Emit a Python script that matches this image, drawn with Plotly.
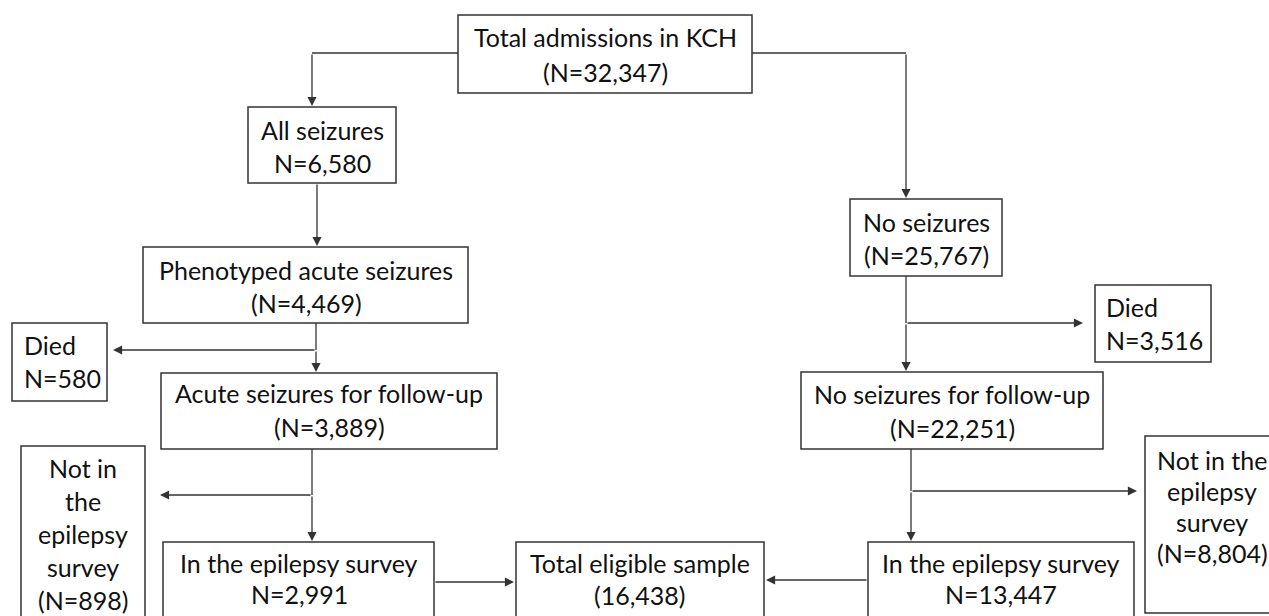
import plotly.graph_objects as go

# ---- data ----
stage_labels = [
    "Total admissions in KCH", "All seizures", "No seizures",
    "Phenotyped acute seizures", "Died", "Died",
    "Acute seizures for follow-up", "No seizures for follow-up",
    "Not in the epilepsy survey", "In the epilepsy survey",
    "Total eligible sample", "In the epilepsy survey",
    "Not in the epilepsy survey",
]
stage_counts = [32347, 6580, 25767, 4469, 580, 3516, 3889, 22251,
                898, 2991, 16438, 13447, 8804]
count_styles = ["paren", "plain", "paren", "paren", "plain", "plain", "paren",
                "paren", "paren", "plain", "bare", "plain", "paren"]
# label line breaks (how the label wraps inside its box)
label_wraps = [
    None, None, None, None, None, None, None, None,
    ["Not in", "the", "epilepsy", "survey"], None, None, None,
    ["Not in the", "epilepsy", "survey"],
]

# ---- layout of boxes (x0, x1, y0, y1, text_x, first_line_y, line_gap, align) ----
box_geom = [
    (458, 752, 15, 93, 605, 37, 35, "center"),
    (248, 396, 107, 183, 322, 130, 33, "center"),
    (850, 1002, 199, 276, 926, 222, 33, "center"),
    (143, 468, 247, 323, 306, 270, 33, "center"),
    (12, 107, 323, 401, 22, 345, 33, "left"),
    (1095, 1211, 285, 362, 1104, 307, 33, "left"),
    (161, 497, 373, 449, 329, 393, 34, "center"),
    (801, 1103, 372, 449, 952, 394, 34, "center"),
    (21, 145, 446, 630, 83, 468, 33, "center"),
    (163, 434, 542, 630, 299, 563, 31, "center"),
    (516, 764, 542, 630, 640, 563, 32, "center"),
    (868, 1134, 542, 630, 1001, 563, 31, "center"),
    (1145, 1290, 436, 613, 1212, 460, 31, "center"),
]

# connector segments (plain lines) and arrows (tail -> tip)
plain_lines = [
    (458, 53, 312, 53), (752, 53, 906, 53),
    (316, 323, 316, 350), (906, 276, 906, 323),
    (312, 449, 312, 495), (911, 449, 911, 491),
]
arrows = [
    (312, 53, 312, 106), (906, 53, 906, 198),
    (317, 183, 317, 246), (316, 350, 113, 350), (316, 350, 316, 372),
    (906, 323, 1083, 323), (906, 323, 906, 371),
    (312, 495, 160, 495), (312, 495, 312, 541),
    (911, 491, 1137, 491), (911, 491, 911, 541),
    (434, 582, 514, 582), (868, 580, 766, 580),
]

FONT = "Lato, Carlito, Calibri, 'Open Sans', sans-serif"
INK = "#111111"
EDGE = "#333333"


def fmt_count(n, style):
    s = f"{n:,}"
    if style == "paren":
        return f"(N={s})"
    if style == "plain":
        return f"N={s}"
    return f"({s})"


fig = go.Figure()
fig.add_trace(go.Scatter(x=[0, 1269], y=[0, 616], mode="markers",
                         marker=dict(opacity=0), hoverinfo="skip",
                         showlegend=False))

shapes = []
annotations = []
for lab, n, st, wrap, g in zip(stage_labels, stage_counts, count_styles,
                               label_wraps, box_geom):
    x0, x1, y0, y1, tx, ty, gap, align = g
    shapes.append(dict(type="rect", xref="x", yref="y", x0=x0, x1=x1,
                       y0=y0, y1=y1, line=dict(color=EDGE, width=1.5),
                       fillcolor="white", layer="below"))
    lines = (wrap if wrap else [lab]) + [fmt_count(n, st)]
    for i, t in enumerate(lines):
        annotations.append(dict(
            x=tx, y=ty + i * gap, xref="x", yref="y", text=t,
            showarrow=False, xanchor="left" if align == "left" else "center",
            yanchor="middle",
            font=dict(family=FONT, size=25, color=INK)))

for (xa, ya, xb, yb) in plain_lines:
    shapes.append(dict(type="line", xref="x", yref="y", x0=xa, y0=ya,
                       x1=xb, y1=yb, line=dict(color=EDGE, width=1.3)))

for (xa, ya, xb, yb) in arrows:
    annotations.append(dict(
        x=xb, y=yb, ax=xa, ay=ya, xref="x", yref="y", axref="x", ayref="y",
        text="", showarrow=True, arrowhead=2, arrowsize=1.4, arrowwidth=1.3,
        arrowcolor=EDGE, standoff=0, startstandoff=0))

fig.update_layout(
    width=1269, height=616,
    margin=dict(l=0, r=0, t=0, b=0),
    paper_bgcolor="white", plot_bgcolor="white",
    xaxis=dict(range=[0, 1269], visible=False, fixedrange=True),
    yaxis=dict(range=[616, 0], visible=False, fixedrange=True),
    shapes=shapes, annotations=annotations, showlegend=False,
)

fig.write_html("out.html", config={"displayModeBar": False},
               post_script="document.body.style.margin='0';"
                           "document.body.style.overflow='hidden';")
